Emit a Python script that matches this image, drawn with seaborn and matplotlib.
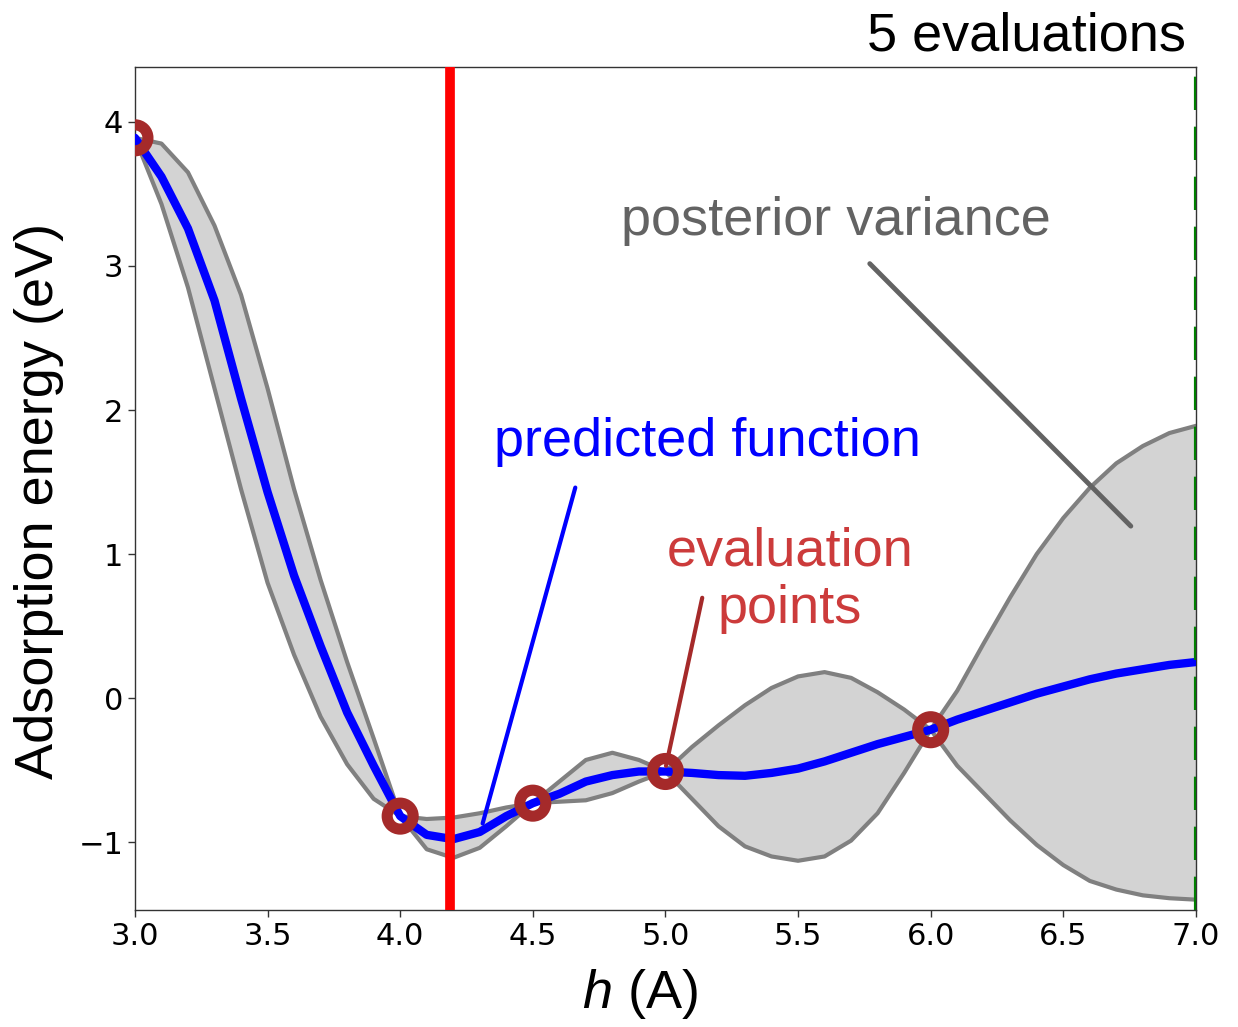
import numpy as np
import pandas as pd
import matplotlib
matplotlib.use('Agg')
import matplotlib.pyplot as plt
import seaborn as sns

# grid of heights (A) and GP posterior
h = [3.0, 3.1, 3.2, 3.3, 3.4, 3.5, 3.6, 3.7, 3.8, 3.9,
     4.0, 4.1, 4.2, 4.3, 4.4, 4.5, 4.6, 4.7, 4.8, 4.9,
     5.0, 5.1, 5.2, 5.3, 5.4, 5.5, 5.6, 5.7, 5.8, 5.9,
     6.0, 6.1, 6.2, 6.3, 6.4, 6.5, 6.6, 6.7, 6.8, 6.9, 7.0]
mean = [3.89, 3.62, 3.26, 2.76, 2.08, 1.43, 0.85, 0.36, -0.10, -0.47,
        -0.82, -0.95, -0.98, -0.93, -0.82, -0.73, -0.665, -0.58, -0.535, -0.51,
        -0.51, -0.52, -0.535, -0.54, -0.52, -0.49, -0.44, -0.38, -0.32, -0.27,
        -0.22, -0.15, -0.09, -0.03, 0.03, 0.08, 0.13, 0.17, 0.20, 0.23, 0.25]
upper = [3.89, 3.85, 3.65, 3.28, 2.80, 2.15, 1.45, 0.82, 0.25, -0.28,
         -0.82, -0.84, -0.83, -0.80, -0.76, -0.73, -0.58, -0.43, -0.38, -0.43,
         -0.51, -0.34, -0.19, -0.05, 0.07, 0.15, 0.18, 0.14, 0.04, -0.08,
         -0.22, 0.05, 0.38, 0.70, 1.00, 1.25, 1.46, 1.63, 1.75, 1.84, 1.89]
lower = [3.89, 3.43, 2.85, 2.15, 1.45, 0.80, 0.30, -0.13, -0.46, -0.70,
         -0.82, -1.05, -1.11, -1.04, -0.89, -0.73, -0.72, -0.71, -0.66, -0.58,
         -0.51, -0.70, -0.89, -1.03, -1.10, -1.13, -1.10, -0.99, -0.80, -0.52,
         -0.22, -0.47, -0.66, -0.85, -1.02, -1.16, -1.27, -1.33, -1.37, -1.39, -1.40]

# evaluated points
eval_h = [3.0, 4.0, 4.5, 5.0, 6.0]
eval_e = [3.89, -0.82, -0.73, -0.51, -0.22]

next_h = 4.188   # red line: proposed next evaluation
best_h = 7.0     # green dashed line

df = pd.DataFrame({'h': h, 'mean': mean, 'upper': upper, 'lower': lower})
pts = pd.DataFrame({'h': eval_h, 'E': eval_e})

sns.set_style('ticks')
plt.rcParams['font.family'] = ['DejaVu Sans']
plt.rcParams['text.color'] = 'black'
plt.rcParams['axes.labelcolor'] = 'black'
plt.rcParams['xtick.color'] = 'black'
plt.rcParams['ytick.color'] = 'black'
plt.rcParams['mathtext.fontset'] = 'custom'
plt.rcParams['mathtext.it'] = 'Liberation Sans:italic'
plt.rcParams['mathtext.rm'] = 'Liberation Sans'

lab = 'Liberation Sans'

fig = plt.figure(figsize=(12.38, 10.27), dpi=100)
ax = fig.add_axes([0.109, 0.1139, 0.857, 0.8209])

ax.fill_between(df['h'], df['lower'], df['upper'], color='lightgray', lw=0, zorder=1)
sns.lineplot(data=df, x='h', y='upper', color='gray', lw=3, ax=ax, zorder=2)
sns.lineplot(data=df, x='h', y='lower', color='gray', lw=3, ax=ax, zorder=2)
sns.lineplot(data=df, x='h', y='mean', color='blue', lw=6, ax=ax, zorder=3)

ax.axvline(next_h, color='red', lw=7, zorder=4)
ax.axvline(best_h, color='green', lw=3, ls=(0, (8, 4)), zorder=4)

sns.scatterplot(data=pts, x='h', y='E', s=350, facecolor='none', edgecolor='brown',
                linewidth=8, ax=ax, zorder=5)

# annotations
ax.text(5.643, 3.31, 'posterior variance', color='#636363', fontsize=39,
        family=lab, ha='center', va='center')
ax.annotate('', xy=(6.762, 1.18), xytext=(5.763, 3.03),
            arrowprops=dict(arrowstyle='-', color='#636363', lw=3.5))

ax.text(5.16, 1.78, 'predicted function', color='blue', fontsize=39,
        family=lab, ha='center', va='center')
ax.annotate('', xy=(4.308, -0.89), xytext=(4.663, 1.48),
            arrowprops=dict(arrowstyle='-', color='blue', lw=3))

ax.text(5.47, 0.82, 'evaluation\npoints', color='#cc3b3b', fontsize=39,
        family=lab, ha='center', va='center', linespacing=1.2)
ax.annotate('', xy=(5.0, -0.49), xytext=(5.141, 0.715),
            arrowprops=dict(arrowstyle='-', color='brown', lw=3))

fig.text(0.958, 0.951, '5 evaluations', fontsize=39, family=lab,
         ha='right', va='baseline')

ax.set_xlim(3.0, 7.0)
ax.set_ylim(-1.472, 4.382)
ax.set_xticks([3.0, 3.5, 4.0, 4.5, 5.0, 5.5, 6.0, 6.5, 7.0])
ax.set_yticks([-1, 0, 1, 2, 3, 4])
ax.set_yticklabels(['\u22121', '0', '1', '2', '3', '4'])
ax.tick_params(labelsize=22, length=5, width=1, color='#333333')
for s in ax.spines.values():
    s.set_color('#333333')
    s.set_linewidth(1)

ax.set_xlabel('$h$ (A)', fontsize=39, family=lab)
ax.set_ylabel('Adsorption energy (eV)', fontsize=39, family=lab)
ax.xaxis.set_label_coords(0.476, -0.068)
ax.yaxis.set_label_coords(-0.067, 0.485)

fig.savefig('out.png', dpi=100)
